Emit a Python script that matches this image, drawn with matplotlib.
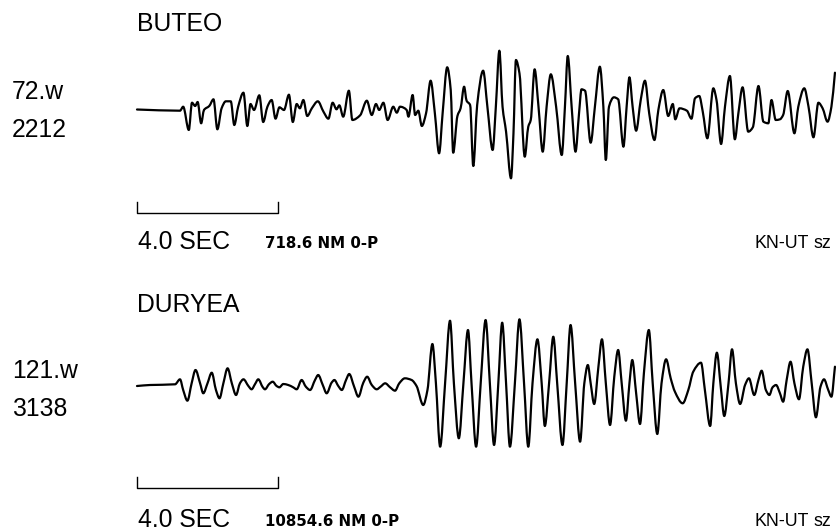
import numpy as np
import matplotlib
matplotlib.use("Agg")
import matplotlib.pyplot as plt
from matplotlib.path import Path
from matplotlib.patches import PathPatch

# ---------------------------------------------------------------------------
# Station records (vertical component, KN-UT).  Time in seconds from the
# start of the window; amplitude in relative record counts, scaled to nm by
# the zero-to-peak value of each record.
# ---------------------------------------------------------------------------
buteo_name = "BUTEO"
buteo_codes = ["72.w", "2212"]
buteo_peak_nm = 718.6
buteo_t = [
    0.00, 1.22, 1.31, 1.47, 1.56, 1.65, 1.72, 1.82, 1.90, 2.05,
    2.17, 2.28, 2.40, 2.52, 2.66, 2.76, 2.87, 3.02, 3.13, 3.22,
    3.32, 3.47, 3.58, 3.70, 3.82, 3.93, 4.04, 4.17, 4.31, 4.42,
    4.53, 4.62, 4.72, 4.83, 4.96, 5.13, 5.29, 5.43, 5.55, 5.66,
    5.74, 5.85, 6.01, 6.11, 6.33, 6.52, 6.66, 6.78, 6.87, 6.99,
    7.11, 7.27, 7.37,
    7.46, 7.65, 7.70, 7.82, 7.89, 7.98, 8.08, 8.20, 8.33, 8.45,
    8.57, 8.67, 8.80, 8.90, 8.97, 9.09, 9.18, 9.28, 9.35, 9.45,
    9.54, 9.65, 9.82, 9.94, 10.09, 10.18, 10.28, 10.37, 10.47, 10.61,
    10.68, 10.75, 10.85, 11.00, 11.10, 11.17, 11.28, 11.39, 11.51, 11.62,
    11.74, 11.89, 12.05, 12.14, 12.22, 12.33, 12.44, 12.54, 12.61, 12.71,
    12.87, 12.99, 13.13, 13.23, 13.30, 13.39, 13.53, 13.65, 13.80, 13.89,
    13.97, 14.06, 14.16, 14.29, 14.41, 14.53, 14.68, 14.79, 14.93, 15.07,
    15.20, 15.27, 15.39, 15.60, 15.73, 15.83, 15.95, 16.05, 16.18, 16.35,
    16.44, 16.57, 16.68, 16.82, 16.96, 17.06, 17.18, 17.34, 17.47, 17.63,
    17.77, 17.91, 18.00, 18.12, 18.24, 18.33, 18.46, 18.65, 18.76, 18.93,
    19.05, 19.19, 19.33, 19.45, 19.59, 19.70, 19.80,
]
buteo_counts = [
    0.5, -0.7, 3.3, -20.0, 7.3, 4.0, 8.0, -13.3, 0.0, 4.0,
    10.7, -19.3, 1.7, 8.7, 8.7, -15.0, 3.3, 17.3, -16.0, 6.0,
    0.0, 14.7, -12.0, 3.3, 10.0, -8.7, 2.7, 0.0, 15.3, -12.0,
    6.0, 1.7, 10.0, -6.0, 1.7, 8.7, -1.7, -8.7, 7.3, 0.7,
    4.7, -6.7, 19.3, -10.0, -5.3, 9.3, -5.0, 6.0, 0.0, 7.3,
    -10.0, 3.3, -2.7,
    3.3, 0.0, -6.7, 15.0, -5.0, -0.7, -16.0, -3.3, 29.3, -3.3,
    -43.3, -3.3, 42.7, 20.0, -42.7, -6.0, 1.7, 23.3, 9.3, 5.0,
    -56.0, 5.0, 39.3, 3.3, -40.0, 3.3, 59.3, 3.3, -21.7, -68.3,
    -23.3, 50.0, 36.7, -46.7, -16.7, -10.0, 40.7, 3.3, -41.7, 3.3,
    35.7, 3.3, -45.0, 3.3, 54.0, 3.3, -41.7, -3.3, 20.7, 19.3,
    -32.7, 3.3, 43.3, 3.3, -50.0, 3.3, 12.7, 10.7, -36.7, 3.3,
    32.7, 3.3, -20.7, 10.0, 29.3, -3.3, -30.0, 0.0, 20.0, -6.0,
    6.0, -9.3, 1.7, -0.7, -8.7, 11.7, 14.0, -1.7, -28.3, 21.7,
    10.0, -34.0, 3.3, 34.0, -29.3, -3.3, 22.7, -21.7, -17.3, 24.0,
    -11.7, -13.3, 10.0, -10.0, -9.3, -5.0, 19.0, -23.3, 3.3, 21.7,
    3.3, -27.3, 7.3, 1.7, -11.7, 3.3, 37.3,
]

duryea_name = "DURYEA"
duryea_codes = ["121.w", "3138"]
duryea_peak_nm = 10854.6
duryea_t = [
    0.00, 0.37, 1.08, 1.22, 1.31, 1.43, 1.55, 1.66, 1.79, 1.88,
    2.00, 2.12, 2.24, 2.34, 2.45, 2.57, 2.69, 2.81, 2.92, 3.02,
    3.16, 3.25, 3.35, 3.44, 3.57, 3.63, 3.75, 3.85, 3.96, 4.04,
    4.15, 4.29, 4.43, 4.53, 4.67, 4.79, 4.91, 5.05, 5.14, 5.27,
    5.38, 5.52, 5.60, 5.71, 5.81, 5.93, 6.02, 6.16, 6.28, 6.42,
    6.53, 6.66, 6.80, 6.91, 7.04, 7.18, 7.32, 7.44,
    7.60, 7.79, 7.93, 8.12, 8.24, 8.38, 8.48, 8.60, 8.74, 8.88,
    8.99, 9.13, 9.26, 9.39, 9.49, 9.62, 9.75, 9.89, 10.01, 10.13,
    10.25, 10.36, 10.47, 10.58, 10.72, 10.85, 10.98, 11.10, 11.22, 11.36,
    11.48, 11.57, 11.69, 11.81, 11.92, 12.07, 12.19, 12.30, 12.43, 12.57,
    12.69, 12.79, 12.87, 12.97, 13.09, 13.19, 13.30, 13.42, 13.54, 13.65,
    13.75, 13.87, 13.97, 14.05, 14.16, 14.27, 14.38, 14.52, 14.63, 14.76,
    14.88, 15.01, 15.14, 15.26, 15.48, 15.64, 15.78, 16.00, 16.11, 16.26,
    16.35, 16.45, 16.56, 16.66, 16.78, 16.88, 16.99, 17.11, 17.25, 17.36,
    17.51, 17.63, 17.72, 17.84, 17.94, 18.03, 18.13, 18.24, 18.33, 18.43,
    18.54, 18.65, 18.78, 18.90, 19.02, 19.14, 19.26, 19.39, 19.49, 19.61,
    19.70, 19.80,
]
duryea_counts = [
    -1.0, 0.0, 0.7, 5.7, -5.0, -15.7, 1.7, 15.0, 1.7, -8.3,
    1.7, 12.3, -5.0, -13.3, 1.7, 16.7, 1.7, -10.0, 1.7, 5.7,
    -1.0, -4.3, 1.0, 5.7, -2.3, -4.3, 1.0, 3.3, -1.0, -2.3,
    1.0, 0.0, -2.3, -4.3, 5.0, -1.7, -5.0, 5.0, 10.0, 0.0,
    -8.3, 2.3, 5.0, -1.0, -5.0, 5.0, 11.0, -1.7, -11.7, 2.3,
    8.3, 0.0, -4.3, -1.7, 1.7, -2.3, -5.7, 1.7,
    6.7, 5.0, -1.0, -20.0, -5.0, 41.0, 1.7, -61.7, 1.7, 64.3,
    1.7, -53.3, 1.7, 55.0, 1.7, -61.7, 1.7, 65.0, 1.7, -60.0,
    1.7, 62.3, 1.7, -61.7, 1.7, 65.7, 1.7, -61.7, 1.7, 45.7,
    1.7, -41.0, 1.7, 48.3, 1.7, -60.0, 1.7, 60.0, 1.7, -56.7,
    1.7, 20.0, 1.7, -19.0, 18.3, 45.7, 1.7, -40.0, 8.3, 35.0,
    1.7, -35.7, 1.7, 25.0, -8.3, -39.0, 11.7, 55.0, 1.7, -49.0,
    1.7, 25.7, 6.7, -6.7, -18.3, -5.0, 13.3, 22.3, -5.0, -41.0,
    1.7, 32.3, -1.7, -31.0, 1.7, 35.7, 1.7, -19.0, 0.0, 6.7,
    -10.0, 5.0, 14.3, -5.0, -10.0, -2.3, 0.0, -8.3, -16.7, 5.0,
    23.3, 1.7, -14.3, 18.3, 35.7, 1.7, -32.3, -1.7, 5.7, -5.0,
    -11.7, 18.3,
]

component_label = "KN-UT"
component_suffix = "sz"
scale_bar_sec = 4.0

# ---------------------------------------------------------------------------
# Layout (pixels on an 836 x 532 canvas)
# ---------------------------------------------------------------------------
W, H = 836, 532
fig = plt.figure(figsize=(W / 100, H / 100), dpi=100)
fig.patch.set_facecolor("white")

BIG = dict(family=["Liberation Sans", "DejaVu Sans"], fontsize=17.8, color="black")
SMALL = dict(family=["DejaVu Sans"], fontsize=10.8, fontweight="bold", color="black")
COMP = dict(family=["Liberation Sans", "DejaVu Sans"], fontsize=12.8, color="black")

TRACE_LEFT = 137          # pixel column of t = 0
PX_PER_SEC = 35.25        # horizontal record speed
HALF_SPAN = 80            # display half-height of a trace box, px


def fx(px):
    return px / W


def fy(py):
    return 1 - py / H


def trace_path(t, y):
    """Smooth pen trace through the samples: cubic Bezier segments with
    shape-preserving (monotone) slopes, so turning points stay where read."""
    t = np.asarray(t, float)
    y = np.asarray(y, float)
    h = np.diff(t)
    d = np.diff(y) / h
    m = np.zeros_like(y)
    m[0], m[-1] = d[0], d[-1]
    for k in range(1, len(y) - 1):
        if d[k - 1] * d[k] > 0:
            w1 = 2 * h[k] + h[k - 1]
            w2 = h[k] + 2 * h[k - 1]
            m[k] = (w1 + w2) / (w1 / d[k - 1] + w2 / d[k])
    verts = [(t[0], y[0])]
    codes = [Path.MOVETO]
    for k in range(len(y) - 1):
        verts += [(t[k] + h[k] / 3, y[k] + m[k] * h[k] / 3),
                  (t[k + 1] - h[k] / 3, y[k + 1] - m[k + 1] * h[k] / 3),
                  (t[k + 1], y[k + 1])]
        codes += [Path.CURVE4] * 3
    return Path(verts, codes)


def draw_station(name, codes, t, counts, peak_nm, title_y, base_y, code_y,
                 label_y):
    counts = np.asarray(counts, dtype=float)
    gain = peak_nm / np.max(np.abs(counts))      # nm per count
    amp = counts * gain

    ax = fig.add_axes([fx(TRACE_LEFT), fy(base_y + HALF_SPAN),
                       1 - fx(TRACE_LEFT), 2 * HALF_SPAN / H])
    ax.set_xlim(0, (W - TRACE_LEFT) / PX_PER_SEC)
    ax.set_ylim(-HALF_SPAN * gain, HALF_SPAN * gain)
    ax.axis("off")
    ax.add_patch(PathPatch(trace_path(t, amp), facecolor="none",
                           edgecolor="black", lw=1.6, joinstyle="round",
                           capstyle="round", clip_on=False))

    # time-scale bracket
    bar_y, tick_y = -103 * gain, -92 * gain
    ax.plot([0, 0, scale_bar_sec, scale_bar_sec],
            [tick_y, bar_y, bar_y, tick_y],
            color="black", lw=1.0, clip_on=False)

    fig.text(fx(TRACE_LEFT), fy(title_y), name, va="baseline", ha="left", **BIG)
    fig.text(fx(12), fy(code_y[0]), codes[0], va="baseline", ha="left", **BIG)
    fig.text(fx(12), fy(code_y[1]), codes[1], va="baseline", ha="left", **BIG)
    fig.text(fx(TRACE_LEFT + 1), fy(label_y), f"{scale_bar_sec:.1f} SEC",
             va="baseline", ha="left", **BIG)
    fig.text(fx(265), fy(label_y - 0.5), f"{np.max(np.abs(amp)):.1f} NM 0-P",
             va="baseline", ha="left", **SMALL)
    fig.text(fx(754), fy(label_y - 0.5), component_label,
             va="baseline", ha="left", **COMP)
    fig.text(fx(813), fy(label_y - 0.5), component_suffix,
             va="baseline", ha="left", **COMP)


draw_station(buteo_name, buteo_codes, buteo_t, buteo_counts, buteo_peak_nm,
             title_y=31, base_y=110, code_y=(99, 137), label_y=249)
draw_station(duryea_name, duryea_codes, duryea_t, duryea_counts, duryea_peak_nm,
             title_y=312, base_y=385, code_y=(378, 416), label_y=527)

fig.savefig("out.png", dpi=100, facecolor="white")
